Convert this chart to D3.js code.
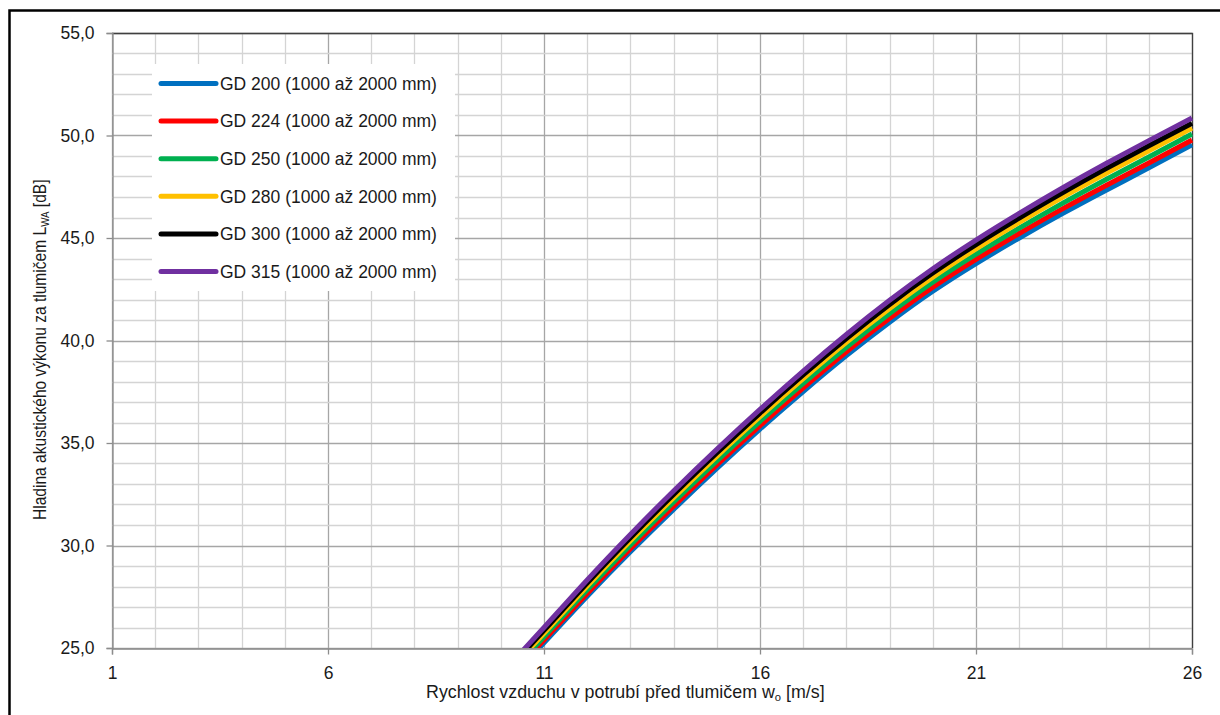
<!DOCTYPE html>
<html>
<head>
<meta charset="utf-8">
<script src="https://cdn.jsdelivr.net/npm/d3@7/dist/d3.min.js"></script>
<style>
  html, body { margin: 0; padding: 0; background: #fff; }
  svg { display: block; }
  text { font-family: "Liberation Sans", Arial, sans-serif; fill: #1a1a1a; }
</style>
</head>
<body>
<svg id="chart" width="1220" height="715"></svg>
<script>
// ---- data ----
const velocities = [10, 11, 12, 13, 14, 15, 16, 17, 18, 19, 20, 21, 22, 23, 24, 25, 26];
const seriesNames = [
  "GD 200 (1000 až 2000 mm)",
  "GD 224 (1000 až 2000 mm)",
  "GD 250 (1000 až 2000 mm)",
  "GD 280 (1000 až 2000 mm)",
  "GD 300 (1000 až 2000 mm)",
  "GD 315 (1000 až 2000 mm)"
];
const gd200 = [23.00, 25.25, 27.52, 29.69, 31.76, 33.76, 35.68, 37.51, 39.26, 40.89, 42.40, 43.75, 45.00, 46.19, 47.32, 48.42, 49.55];
const gd224 = [23.13, 25.39, 27.66, 29.84, 31.92, 33.93, 35.85, 37.69, 39.45, 41.08, 42.60, 43.96, 45.22, 46.42, 47.55, 48.66, 49.78];
const gd250 = [23.28, 25.55, 27.84, 30.03, 32.12, 34.13, 36.06, 37.91, 39.67, 41.32, 42.84, 44.21, 45.48, 46.69, 47.84, 48.95, 50.07];
const gd280 = [23.44, 25.72, 28.02, 30.23, 32.33, 34.35, 36.28, 38.14, 39.91, 41.56, 43.09, 44.47, 45.76, 46.98, 48.14, 49.26, 50.37];
const gd300 = [23.57, 25.86, 28.17, 30.38, 32.49, 34.51, 36.46, 38.32, 40.09, 41.76, 43.29, 44.68, 45.97, 47.20, 48.37, 49.50, 50.60];
const gd315 = [23.70, 26.00, 28.32, 30.54, 32.66, 34.69, 36.64, 38.51, 40.29, 41.96, 43.50, 44.90, 46.20, 47.44, 48.62, 49.75, 50.85];
const seriesValues = [gd200, gd224, gd250, gd280, gd300, gd315];
const seriesColors = ["#0070C0", "#FF0000", "#00B050", "#FFC000", "#000000", "#7030A0"];
const xTickValues = [1, 6, 11, 16, 21, 26];
const yTickValues = [25, 30, 35, 40, 45, 50, 55];
const xLabel = "Rychlost vzduchu v potrubí před tlumičem w";
const xLabelSub = "o";
const xLabelEnd = " [m/s]";
const yLabel = "Hladina akustického výkonu za tlumičem L";
const yLabelSub = "WA";
const yLabelEnd = " [dB]";

// ---- layout ----
const svg = d3.select("#chart");
const pLeft = 112, pRight = 1192, pTop = 33, pBottom = 648;
const x = d3.scaleLinear().domain([1, 26]).range([pLeft, pRight]);
const y = d3.scaleLinear().domain([25, 55]).range([pBottom, pTop]);

// outer frame
svg.append("path")
  .attr("d", `M9.5,716 L9.5,10.5 L1221,10.5`)
  .attr("fill", "none").attr("stroke", "#000").attr("stroke-width", 2.5);

// grid
const g = svg.append("g");
const minorX = d3.range(1, 27, 1);
const minorY = d3.range(25, 56, 1);
g.selectAll(".vminor").data(minorX).join("line")
  .attr("x1", d => Math.round(x(d)) + 0.5).attr("x2", d => Math.round(x(d)) + 0.5)
  .attr("y1", pTop).attr("y2", pBottom)
  .attr("stroke", d => (d - 1) % 5 === 0 ? "#a6a6a6" : "#d4d4d4").attr("stroke-width", 1.3);
g.selectAll(".hminor").data(minorY).join("line")
  .attr("y1", d => Math.round(y(d)) + 0.5).attr("y2", d => Math.round(y(d)) + 0.5)
  .attr("x1", pLeft).attr("x2", pRight)
  .attr("stroke", d => d % 5 === 0 ? "#a6a6a6" : "#d4d4d4").attr("stroke-width", 1.3);

// plot border top/right
svg.append("path")
  .attr("d", `M${pLeft},${pTop + 0.5} L${pRight + 0.5},${pTop + 0.5} L${pRight + 0.5},${pBottom}`)
  .attr("fill", "none").attr("stroke", "#404040").attr("stroke-width", 1.3);

// axes
const xAxis = d3.axisBottom(x).tickValues(xTickValues).tickSize(6).tickPadding(12)
  .tickFormat(d3.format("d"));
const yAxis = d3.axisLeft(y).tickValues(yTickValues).tickSize(6).tickPadding(12)
  .tickFormat(d => d3.format(".1f")(d).replace(".", ","));
const gx = svg.append("g").attr("transform", `translate(0,${pBottom + 0.5})`).call(xAxis);
const gy = svg.append("g").attr("transform", `translate(${pLeft + 0.5},0)`).call(yAxis);
[gx, gy].forEach(a => {
  a.select(".domain").attr("stroke", "#8c8c8c").attr("stroke-width", 1.3);
  a.selectAll(".tick line").attr("stroke", "#8c8c8c").attr("stroke-width", 1.3);
  a.selectAll(".tick text").attr("font-size", 17.5).attr("font-family", "Liberation Sans, Arial, sans-serif").attr("fill", "#1a1a1a");
});

// curves
svg.append("clipPath").attr("id", "plotclip").append("rect")
  .attr("x", pLeft).attr("y", pTop).attr("width", pRight - pLeft + 3).attr("height", pBottom - pTop);
const line = d3.line().x((d, i) => x(velocities[i])).y(d => y(d)).curve(d3.curveNatural);
svg.append("g").attr("clip-path", "url(#plotclip)")
  .selectAll("path").data(seriesValues).join("path")
  .attr("d", d => line(d))
  .attr("fill", "none")
  .attr("stroke", (d, i) => seriesColors[i])
  .attr("stroke-width", 5)
  .attr("stroke-linecap", "butt");

// legend
const lg = svg.append("g");
lg.append("rect").attr("x", 152).attr("y", 64).attr("width", 303).attr("height", 227).attr("fill", "#fff");
const rowY = i => 83.5 + i * 37.6;
seriesNames.forEach((name, i) => {
  lg.append("line").attr("x1", 161).attr("x2", 216)
    .attr("y1", rowY(i)).attr("y2", rowY(i))
    .attr("stroke", seriesColors[i]).attr("stroke-width", 5).attr("stroke-linecap", "round");
  lg.append("text").attr("x", 220).attr("y", rowY(i) + 6.3)
    .attr("font-size", 17.5).text(name);
});

// axis titles
const xt = svg.append("text").attr("transform", "translate(426,698) scale(1.02,1)").attr("font-size", 17.5);
xt.append("tspan").text(xLabel);
xt.append("tspan").attr("font-size", 11).attr("dy", 3).text(xLabelSub);
xt.append("tspan").attr("dy", -3).text(xLabelEnd);

const yt = svg.append("text").attr("transform", "translate(46,520) rotate(-90) scale(0.89,1)").attr("font-size", 17.5);
yt.append("tspan").text(yLabel);
yt.append("tspan").attr("font-size", 11).attr("dy", 3).text(yLabelSub);
yt.append("tspan").attr("dy", -3).text(yLabelEnd);
</script>
</body>
</html>
